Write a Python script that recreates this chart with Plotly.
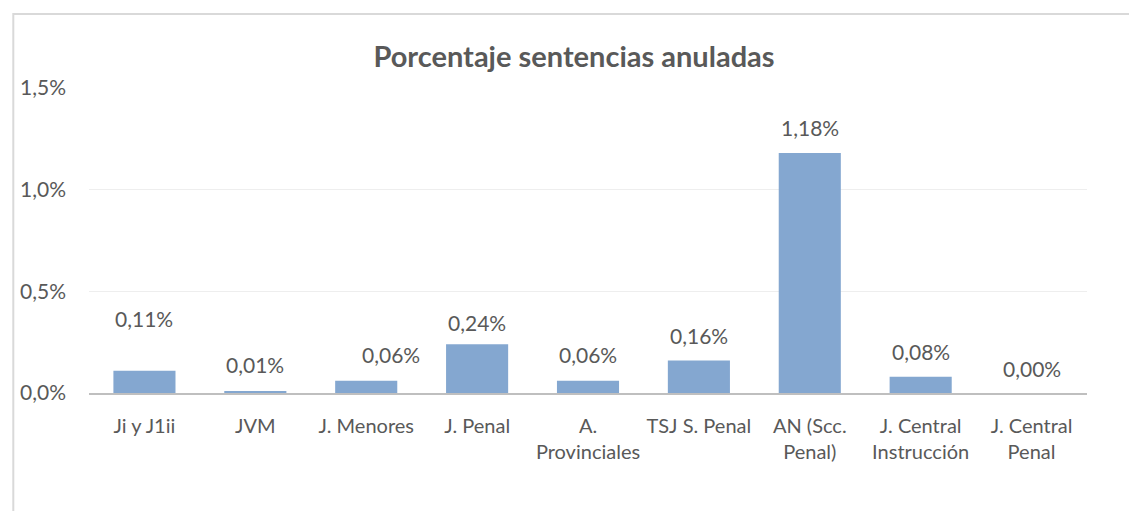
import plotly.graph_objects as go

categories = ["Ji y J1ii", "JVM", "J. Menores", "J. Penal", "A.<br>Provinciales",
              "TSJ S. Penal", "AN (Scc.<br>Penal)", "J. Central<br>Instrucción", "J. Central<br>Penal"]
values = [0.11, 0.01, 0.06, 0.24, 0.06, 0.16, 1.18, 0.08, 0.00]
labels = ["0,11%", "0,01%", "0,06%", "0,24%", "0,06%", "0,16%", "1,18%", "0,08%", "0,00%"]
tick_vals = [0, 0.5, 1.0, 1.5]
tick_text = ["0,0%", "0,5%", "1,0%", "1,5%"]

# label nudges (style only)
label_dx = [0, 0, 25, 0, 0, 0, 0, 0, 0]
label_dy = [52, 26, 26, 22, 26, 25, 26, 25, 25]

FONT = "Lato"
GRAY = "#595959"

# page body has an 8px margin; figure coordinates are offset by it
W, H = 1129, 503
L, R, T, B = 77, 50, 80, 118
pw, ph = W - L - R, H - T - B

fig = go.Figure()
fig.add_trace(go.Bar(x=categories, y=values, marker=dict(color="#84a7d0", line=dict(width=0)),
                     hoverinfo="skip"))

for c, v, t, dx, dy in zip(categories, values, labels, label_dx, label_dy):
    fig.add_annotation(x=c, y=v, text=t, showarrow=False, xshift=dx, yshift=dy,
                       yanchor="middle", font=dict(family=FONT, size=21, color=GRAY))

fig.add_shape(type="rect", xref="paper", yref="paper",
              x0=(1 - L) / pw, x1=(W + 20 - L) / pw,
              y0=-(H + 20 - T - ph) / ph, y1=(H - B - 6) / ph,
              line=dict(color="#d9d9d9", width=2), fillcolor="rgba(0,0,0,0)", layer="below")

fig.update_layout(
    width=W, height=H,
    margin=dict(l=L, r=R, t=T, b=B),
    paper_bgcolor="white", plot_bgcolor="white",
    bargap=0.44,
    showlegend=False,
    title=dict(text="<b>Porcentaje sentencias anuladas</b>", x=(574 - 8) / W, xanchor="center",
               y=1 - (57 - 8) / H, yanchor="middle",
               font=dict(family=FONT, size=29, color=GRAY)),
    xaxis=dict(showline=True, linecolor="#bfbfbf", linewidth=1.5, ticks="",
               ticklabelstandoff=14,
               tickfont=dict(family=FONT, size=20, color=GRAY), fixedrange=True),
    yaxis=dict(range=[0, 1.5], tickvals=tick_vals, ticktext=tick_text,
               showgrid=True, gridcolor="#eeeeee", gridwidth=1, zeroline=False,
               showline=False, ticks="", ticklabelstandoff=22,
               tickfont=dict(family=FONT, size=21, color=GRAY), fixedrange=True),
)

fig.write_html("out.html")
